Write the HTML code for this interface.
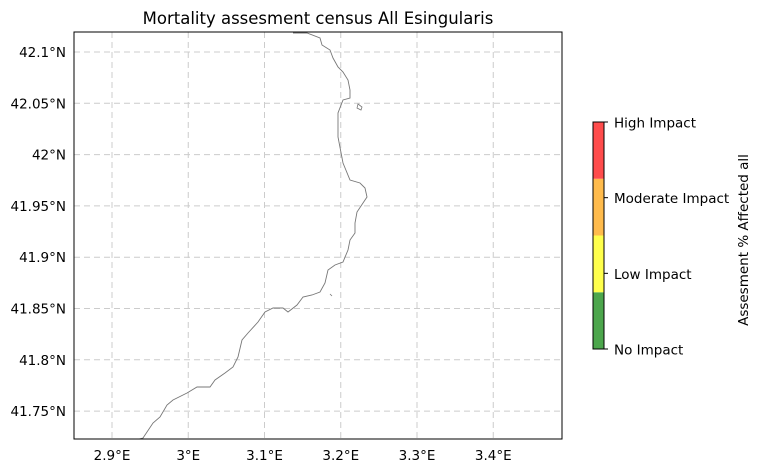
<!DOCTYPE html>
<html><head><meta charset="utf-8"><style>
body{margin:0;background:#fff;font-family:"Liberation Sans","DejaVu Sans",sans-serif}
svg text{font-family:"DejaVu Sans","Liberation Sans",sans-serif;font-size:13.5px;fill:#000}
</style></head><body>
<svg id="c" width="762" height="471" xmlns="http://www.w3.org/2000/svg">
<text x="318" y="24" text-anchor="middle" style="font-size:16.5px">Mortality assesment census All Esingularis</text>
<g id="grid"></g>
<path d="M293,33 L307,33 L320,38 L322,45 L330,50 L333,58 L338,67 L343,72 L348,80 L350,90 L350,98 L343,100 L338,113 L338,137 L343,163 L350,180 L360,183 L365,188 L367,197 L363,203 L357,212 L355,223 L355,233 L350,240 L348,250 L343,262 L335,265 L328,270 L325,283 L320,292 L312,295 L303,297 L297,305 L288,312 L283,308 L273,308 L265,312 L258,322 L248,333 L242,340 L238,357 L233,367 L225,373 L215,380 L210,387 L197,387 L187,393 L173,400 L167,405 L160,417 L153,423 L143,438 L139,439" fill="none" stroke="#777" stroke-width="0.9"/>
<path d="M358,104 L362,107 L361,110 L357,108 Z" fill="none" stroke="#777" stroke-width="0.8"/>
<path d="M330,294 L332,296" stroke="#777" stroke-width="0.8"/>
<rect x="74" y="32" width="488" height="407" fill="none" stroke="#000" stroke-width="1"/>
<g id="ticks"></g>
<g id="cbar"></g>
<text transform="translate(748,240) rotate(-90)" text-anchor="middle">Assesment % Affected all</text>
</svg>
<script>
const lonTicks=[2.9,3.0,3.1,3.2,3.3,3.4];
const lonLabels=["2.9°E","3°E","3.1°E","3.2°E","3.3°E","3.4°E"];
const latTicks=[42.1,42.05,42.0,41.95,41.9,41.85,41.8,41.75];
const latLabels=["42.1°N","42.05°N","42°N","41.95°N","41.9°N","41.85°N","41.8°N","41.75°N"];
const levels=["No Impact","Low Impact","Moderate Impact","High Impact"];
const levelColors=["#4ca64c","#ffff4c","#ffbb4c","#ff4c4c"];
const NS="http://www.w3.org/2000/svg";
const X=v=>112+(v-2.9)*762.5;
const Y=v=>52+(42.1-v)*1026;
const g=document.getElementById('grid'),t=document.getElementById('ticks'),cb=document.getElementById('cbar');
function mk(tag,a,p){const e=document.createElementNS(NS,tag);for(const k in a)e.setAttribute(k,a[k]);p.appendChild(e);return e;}
lonTicks.forEach((v,i)=>{
 const l=mk('line',{x1:X(v),x2:X(v),y1:32,y2:439,stroke:'#ccc','stroke-dasharray':'6,4','stroke-width':1},g);
 
 
 const tx=mk('text',{x:X(v),y:460,'text-anchor':'middle'},t);tx.textContent=lonLabels[i];
 
 
});
latTicks.forEach((v,i)=>{
 const l=mk('line',{x1:74,x2:562,y1:Y(v),y2:Y(v),stroke:'#ccc','stroke-dasharray':'6,4','stroke-width':1},g);
 
 
 const tx=mk('text',{x:66,y:Y(v)+5,'text-anchor':'end'},t);tx.textContent=latLabels[i];
 
 
});
const cTop=122,cBot=349,segH=(cBot-cTop)/levels.length;
levels.forEach((n,i)=>{
 const r=mk('rect',{x:593,y:cBot-(i+1)*segH,width:11,height:segH,fill:levelColors[i]},cb);
 
 
});
mk('rect',{x:593,y:cTop,width:11,height:cBot-cTop,fill:'none',stroke:'#000','stroke-width':1},cb);
levels.forEach((n,i)=>{
 const y=cBot-i*(cBot-cTop)/(levels.length-1);
 mk('line',{x1:604,x2:608,y1:y,y2:y,stroke:'#000'},cb);
 const tx=mk('text',{x:614,y:y+5.5},cb);tx.textContent=n;
 
 
});
</script>
</body></html>
